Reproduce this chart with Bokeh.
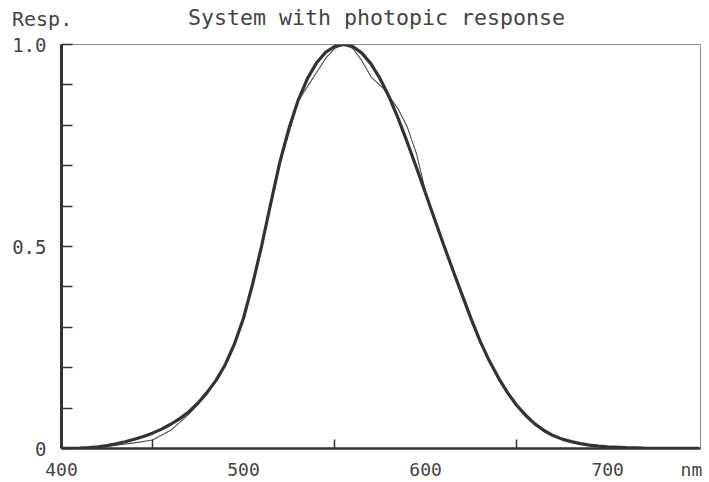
from bokeh.plotting import figure
from bokeh.models import Range1d, FixedTicker, Div
from bokeh.layouts import column
from bokeh.embed import file_html
from bokeh.resources import INLINE

# Wavelength grid (nm)
wavelength = [400, 405, 410, 415, 420, 425, 430, 435, 440, 445, 450, 455, 460, 465,
              470, 475, 480, 485, 490, 495, 500, 505, 510, 515, 520, 525, 530, 535,
              540, 545, 550, 555, 560, 565, 570, 575, 580, 585, 590, 595, 600, 605,
              610, 615, 620, 625, 630, 635, 640, 645, 650, 655, 660, 665, 670, 675,
              680, 685, 690, 695, 700, 710, 720, 730, 740, 750]

# Photopic luminosity function V(lambda)
photopic = [0.0004, 0.00064, 0.0012, 0.00218, 0.004, 0.0073, 0.0116, 0.01684, 0.023,
            0.0298, 0.038, 0.048, 0.06, 0.0739, 0.091, 0.1126, 0.139, 0.1693, 0.208,
            0.2586, 0.323, 0.4073, 0.503, 0.6082, 0.71, 0.7932, 0.862, 0.9149, 0.954,
            0.9803, 0.995, 1.0, 0.995, 0.9786, 0.952, 0.9154, 0.87, 0.8163, 0.757,
            0.6949, 0.631, 0.5668, 0.503, 0.4412, 0.381, 0.321, 0.265, 0.217, 0.175,
            0.1382, 0.107, 0.0816, 0.061, 0.0446, 0.032, 0.0232, 0.017, 0.01192,
            0.0082, 0.00586, 0.0041, 0.0021, 0.00105, 0.00052, 0.00025, 0.00012]

# Measured system response
system_wl = [400, 410, 420, 430, 440, 450, 460, 470, 480, 490, 500, 510, 520, 530,
             535, 540, 545, 550, 555, 560, 565, 570, 577, 585, 590, 595, 600, 610,
             620, 630, 640, 650, 660, 670, 680, 690, 700, 710, 720, 730, 740, 750]
system_resp = [0.0, 0.0005, 0.002, 0.008, 0.014, 0.021, 0.045, 0.085, 0.135, 0.205,
               0.32, 0.5, 0.705, 0.86, 0.895, 0.93, 0.965, 0.99, 1.0, 0.99, 0.96,
               0.92, 0.89, 0.84, 0.795, 0.73, 0.635, 0.505, 0.38, 0.265, 0.172, 0.11,
               0.062, 0.033, 0.017, 0.008, 0.004, 0.002, 0.001, 0.0005, 0.0, 0.0]

x_major = [400, 500, 600, 700]
x_minor = [450, 550, 650]
x_unit_pos = 746
x_tick_labels = {400: "400", 500: "500", 600: "600", 700: "700", x_unit_pos: "nm"}
y_major = [0, 0.5, 1.0]
y_minor = [0.1, 0.2, 0.3, 0.4, 0.6, 0.7, 0.8, 0.9]
y_tick_labels = {0: "0", 0.5: "0.5", 1: "1.0"}

title_text = "System with photopic response"
y_title = "Resp."

FONT = "DejaVu Sans Mono"
INK = "#333333"
TEXT = "#444444"

# Header line: axis caption on the left, chart title in the middle
header = Div(
    text=(
        f'<div style="position:relative;width:709px;height:30px;'
        f'font-family:\'{FONT}\';color:{TEXT};white-space:nowrap;">'
        f'<span style="position:absolute;left:12px;top:5px;font-size:20px;">{y_title}</span>'
        f'<span style="position:absolute;left:188px;top:3px;font-size:21.6px;">{title_text}</span>'
        f'</div>'
    ),
    width=709, height=30, margin=0,
)

p = figure(width=709, height=452, output_backend="svg", toolbar_location=None,
           x_range=Range1d(400, 751), y_range=Range1d(0, 1.0),
           min_border_left=61, min_border_right=9, min_border_top=14,
           min_border_bottom=32, background_fill_color="white",
           border_fill_color="white", margin=0)

p.grid.visible = False
p.outline_line_color = "#8a8a8a"
p.outline_line_width = 1

for ax, major, minor in ((p.xaxis, x_major + [x_unit_pos], x_minor),
                         (p.yaxis, y_major, y_minor)):
    ax.ticker = FixedTicker(ticks=major, minor_ticks=minor)
    ax.axis_line_color = INK
    ax.major_tick_line_color = INK
    ax.minor_tick_line_color = INK
    ax.major_tick_out = 0
    ax.minor_tick_out = 0
    ax.major_label_text_font = FONT
    ax.major_label_text_color = TEXT

p.yaxis.major_label_text_font_size = "19px"
p.yaxis.axis_line_width = 3
p.yaxis.major_tick_in = 11
p.yaxis.minor_tick_in = 11
p.yaxis.major_tick_line_width = 1.5
p.yaxis.minor_tick_line_width = 1.5
p.yaxis.major_label_standoff = 15
p.yaxis.major_label_overrides = y_tick_labels

p.xaxis.major_label_text_font_size = "18px"
p.xaxis.axis_line_width = 2.5
p.xaxis.major_tick_in = 0
p.xaxis.minor_tick_in = 9
p.xaxis.minor_tick_line_width = 1.5
p.xaxis.major_label_standoff = 10
p.xaxis.major_label_overrides = x_tick_labels

# Curves: system response (thin) and photopic reference (thick)
p.line(system_wl, system_resp, line_color="#4d4d4d", line_width=1.1)
p.line(wavelength, photopic, line_color=INK, line_width=3.2)

layout = column(header, p, spacing=0, margin=0)

open("out.html", "w").write(file_html(layout, INLINE))
